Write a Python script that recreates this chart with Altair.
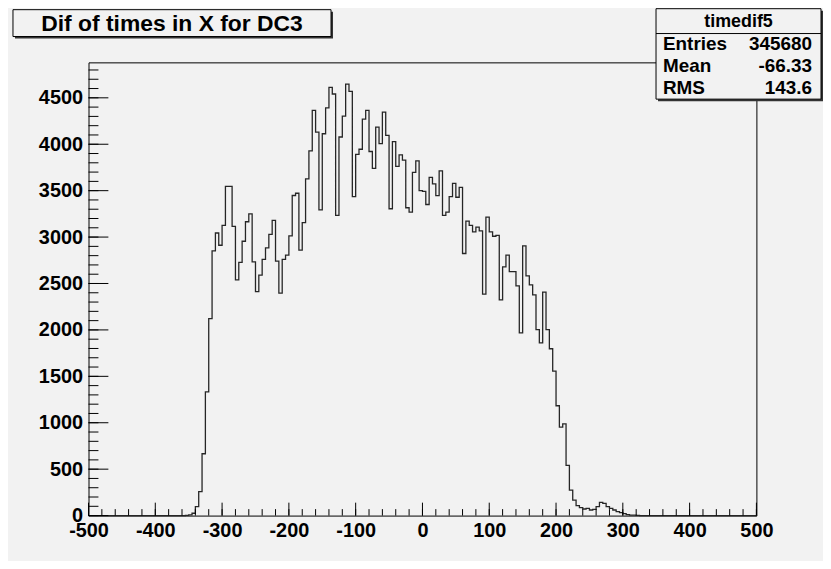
import altair as alt
import pandas as pd

X_MIN, X_MAX, BIN_W = -500, 500, 5

# bin contents (bin width 5, left edges from -500)
zeros_left = [0] * 29  # -500 ... -360
core = [
    3, 8, 25, 96, 257, 666, 1333, 2121, 2851, 3044,          # -355 .. -310
    2912, 3126, 3547, 3547, 3115, 2540, 2728, 2955, 3165, 3251,  # -305 .. -260
    2734, 2413, 2591, 2759, 2884, 3030, 3180, 2741, 2396, 2759,  # -255 .. -210
    2805, 3012, 3448, 3472, 2859, 3155, 3626, 3928, 4364, 4131,  # -205 .. -160
    3294, 4113, 4391, 4613, 4541, 3233, 4078, 4303, 4648, 4570,  # -155 .. -110
    3436, 3890, 3946, 4270, 4364, 3922, 3741, 4185, 4006, 4346,  # -105 .. -60
    4096, 3305, 4028, 3761, 3886, 3829, 3316, 3269, 3696, 3821,  # -55 .. -10
    3501, 3493, 3351, 3643, 3572, 3447, 3714, 3233, 3269, 3436,  # -5 .. 40
    3579, 3429, 3536, 2823, 3172, 3126, 3055, 3108, 3066, 2385,  # 45 .. 90
    3215, 3055, 3009, 3019, 2324, 2680, 2805, 2627, 2627, 2474,  # 95 .. 140
    1968, 2905, 2581, 2485, 2378, 2003, 1861, 2406, 2003, 1797,  # 145 .. 190
    1557, 1183, 952, 987, 541, 274, 167, 107, 85, 71,           # 195 .. 240
    78, 60, 67, 96, 142, 131, 96, 78, 60, 42,                   # 245 .. 290
    32, 22, 11, 5, 5, 2,                                        # 295 .. 320
]
zeros_right = [0] * (200 - len(zeros_left) - len(core))
counts = zeros_left + core + zeros_right
bin_left = [X_MIN + BIN_W * i for i in range(len(counts))]

x_major = [-500, -400, -300, -200, -100, 0, 100, 200, 300, 400, 500]
x_minor = list(range(-500, 501, 20))
y_major = [0, 500, 1000, 1500, 2000, 2500, 3000, 3500, 4000, 4500]
y_minor = list(range(0, 4801, 100))

TITLE = "Dif of times in X for DC3"
STATS_TITLE = "timedif5"
stats_labels = ["Entries", "Mean", "RMS"]
stats_values = ["345680", "-66.33", "143.6"]

BG = "#f2f2f2"
W, H = 672, 456
Y_TOP = 4882
AX_FONT = "Liberation Sans"

hist = pd.DataFrame({"x": bin_left + [X_MAX], "n": counts + [counts[-1]]})

xs = alt.Scale(domain=[X_MIN, X_MAX], nice=False, zero=False)
ys = alt.Scale(domain=[0, Y_TOP], nice=False, zero=True)

axis_common = dict(ticks=False, tickSize=0, domain=False, grid=False,
                   labelExpr="'' + datum.value",
                   labelFont=AX_FONT, labelFontSize=20, labelFontWeight="bold",
                   labelColor="black", labelFlush=False, labelOverlap=False, title=None)
x_axis = alt.Axis(values=x_major, labelPadding=5, **axis_common)
y_axis = alt.Axis(values=y_major, labelPadding=6, **axis_common)

line = alt.Chart(hist).mark_line(interpolate="step-after", color="#262626",
                                 strokeWidth=1.3).encode(
    x=alt.X("x:Q", scale=xs, axis=x_axis),
    y=alt.Y("n:Q", scale=ys, axis=y_axis),
)


def ticks_x(vals, length):
    return alt.Chart(pd.DataFrame({"v": vals})).mark_rule(color="black", strokeWidth=1).encode(
        x=alt.X("v:Q", scale=xs, axis=x_axis), y=alt.value(H), y2=alt.value(H - length))


def ticks_y(vals, length):
    return alt.Chart(pd.DataFrame({"v": vals})).mark_rule(color="black", strokeWidth=1).encode(
        y=alt.Y("v:Q", scale=ys, axis=y_axis), x=alt.value(0), x2=alt.value(length))


one = alt.Data(values=[{"a": 1}])


def box(x, x2, y, y2, fill, stroke=None):
    kw = dict(fill=fill)
    if stroke is not None:
        kw.update(stroke=stroke, strokeWidth=1)
    return alt.Chart(one).mark_rect(**kw).encode(
        x=alt.value(x), x2=alt.value(x2), y=alt.value(y), y2=alt.value(y2))


def label(txt, x, y, size, align="center"):
    return alt.Chart(one).mark_text(text=txt, font="Liberation Sans", fontSize=size,
                                    fontWeight="bold", align=align, baseline="middle",
                                    color="black").encode(x=alt.value(x), y=alt.value(y))


# title box
tb = [box(-74, 246, -51, -24, "#333333"), box(-76, 244, -53, -26, BG, "black"),
      label(TITLE, 84, -39, 23)]

# stats box
sx0, sx1, sy0, sy1 = 571, 737, -54, 37
sb = [box(sx0 + 2, sx1 + 2, sy0 + 2, sy1 + 2, "#333333"), box(sx0, sx1, sy0, sy1, BG, "black"),
      alt.Chart(one).mark_rule(color="black", strokeWidth=1).encode(
          x=alt.value(sx0), x2=alt.value(sx1), y=alt.value(-29), y2=alt.value(-29)),
      label(STATS_TITLE, 654, -41, 18)]
row_y = [-18, 4, 26]
for lab, val, yy in zip(stats_labels, stats_values, row_y):
    sb.append(label(lab, 578, yy, 19, "left"))
    sb.append(label(val, 728, yy, 19, "right"))

chart = alt.layer(
    line,
    ticks_x(x_minor, 6.5), ticks_x(x_major, 13),
    ticks_y(y_minor, 10), ticks_y(y_major, 20),
    *tb, *sb,
).properties(
    width=W, height=H,
    padding={"left": 81, "top": 53, "right": 67, "bottom": 44},
    autosize=alt.AutoSizeParams(type="none"),
).configure(background=BG).configure_view(fill=BG, stroke="black", strokeWidth=1)

chart.save("out.html", embed_options={"renderer": "svg", "actions": False})
